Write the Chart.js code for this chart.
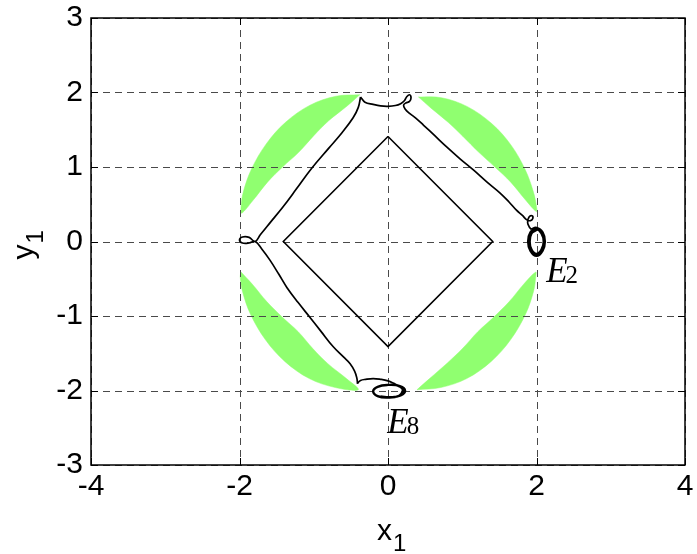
<!DOCTYPE html>
<html>
<head>
<meta charset="utf-8">
<script src="https://cdn.jsdelivr.net/npm/chart.js@4.4.1/dist/chart.umd.min.js"></script>
<style>
  html, body { margin: 0; background: #fff; }
</style>
</head>
<body>
<canvas id="phase" width="697" height="554"></canvas>
<script>
// axis ticks
const xTicks = [-4, -2, 0, 2, 4];
const yTicks = [-3, -2, -1, 0, 1, 2, 3];

// inner square (rotated)
const diamondX = [0, 1.41, 0, -1.41, 0];
const diamondY = [1.41, 0, -1.41, 0, 1.41];

// green regions, outer edge then inner edge
const greenTLx = [-0.38, -0.70, -1.05, -1.38, -1.64, -1.84, -1.95, -1.98, -1.97, -1.82, -1.62, -1.42, -1.20, -1.00, -0.80, -0.55, -0.38];
const greenTLy = [1.97, 1.95, 1.83, 1.60, 1.31, 0.97, 0.66, 0.45, 0.38, 0.55, 0.80, 1.00, 1.20, 1.42, 1.62, 1.82, 1.97];
const greenTRx = [0.41, 0.72, 1.07, 1.40, 1.66, 1.85, 1.96, 2.00, 2.00, 1.85, 1.65, 1.44, 1.22, 1.01, 0.81, 0.58, 0.41];
const greenTRy = [1.94, 1.93, 1.81, 1.58, 1.29, 0.96, 0.66, 0.47, 0.40, 0.56, 0.80, 1.00, 1.20, 1.41, 1.60, 1.79, 1.94];
const greenBLx = [-1.98, -1.99, -1.96, -1.85, -1.65, -1.39, -1.06, -0.71, -0.40, -0.56, -0.81, -1.01, -1.21, -1.43, -1.63, -1.83, -1.98];
const greenBLy = [-0.41, -0.47, -0.67, -0.98, -1.32, -1.61, -1.84, -1.96, -1.99, -1.84, -1.64, -1.44, -1.21, -1.01, -0.81, -0.57, -0.41];
const greenBRx = [0.39, 0.71, 1.06, 1.39, 1.65, 1.85, 1.96, 1.99, 1.99, 1.83, 1.63, 1.43, 1.21, 1.01, 0.80, 0.56, 0.39];
const greenBRy = [-1.99, -1.96, -1.84, -1.61, -1.32, -0.98, -0.67, -0.47, -0.41, -0.57, -0.81, -1.01, -1.21, -1.43, -1.63, -1.84, -1.99];

// trajectory: top-left corner, down past the left loop to the bottom corner
const leftX = [-0.37, -0.40, -0.47, -0.62, -0.80, -1.03, -1.23, -1.41, -1.59, -1.72, -1.79, -1.87, -1.96, -2.00, -1.96, -1.87, -1.79, -1.70, -1.59, -1.47, -1.36, -1.21, -1.05, -0.90, -0.74, -0.60, -0.51, -0.45, -0.42, -0.41];
const leftY = [1.94, 1.80, 1.66, 1.46, 1.25, 0.98, 0.71, 0.47, 0.25, 0.09, 0.00, 0.055, 0.06, 0.02, -0.02, -0.02, 0.00, -0.10, -0.25, -0.44, -0.62, -0.82, -1.02, -1.21, -1.41, -1.55, -1.64, -1.74, -1.83, -1.91];

// trajectory: arc over the top, small loop, then down to E2
const topX = [-0.37, -0.31, -0.20, -0.10, 0.00, 0.10, 0.17, 0.22, 0.25, 0.29, 0.31, 0.29, 0.24, 0.21, 0.23, 0.29, 0.37, 0.48, 0.63, 0.79, 0.97, 1.15, 1.33, 1.51, 1.63, 1.73, 1.81, 1.87, 1.92, 1.95, 1.94, 1.90, 1.88, 1.90, 1.93];
const topY = [1.94, 1.87, 1.84, 1.82, 1.815, 1.825, 1.85, 1.89, 1.94, 1.97, 1.93, 1.88, 1.86, 1.83, 1.78, 1.72, 1.66, 1.56, 1.42, 1.27, 1.11, 0.96, 0.80, 0.65, 0.53, 0.42, 0.35, 0.29, 0.28, 0.31, 0.345, 0.33, 0.26, 0.20, 0.16];

// hook at the bottom leading into E8
const hookX = [-0.41, -0.37, -0.30, -0.20, -0.10, 0.00, 0.07, 0.12];
const hookY = [-1.90, -1.865, -1.85, -1.84, -1.85, -1.87, -1.90, -1.93];

// equilibrium cycles
const e2X = [1.93, 2.00, 2.08, 2.11, 2.08, 2.00, 1.92, 1.89, 1.92, 2.00, 2.07, 2.10, 2.07, 2.00, 1.93, 1.905, 1.93, 2.00];
const e2Y = [0.16, 0.18, 0.12, 0.00, -0.12, -0.19, -0.12, 0.00, 0.12, 0.17, 0.11, 0.00, -0.11, -0.17, -0.11, 0.00, 0.11, 0.16];
const e8X = [0.12, 0.18, 0.20, 0.15, 0.00, -0.14, -0.20, -0.14, 0.00, 0.16, 0.23, 0.17, 0.03, -0.10];
const e8Y = [-1.93, -1.96, -2.00, -2.07, -2.095, -2.075, -2.01, -1.95, -1.925, -1.94, -2.00, -2.065, -2.09, -2.08];

// point labels
const eqLabels = [
  { main: 'E', sub: '2', x: 2.13, y: -0.54 },
  { main: 'E', sub: '8', x: -0.01, y: -2.57 }
];

const pts = (xs, ys) => xs.map((x, i) => ({ x: x, y: ys[i] }));

const curve = (xs, ys, w, tension) => ({
  data: pts(xs, ys),
  showLine: true,
  borderColor: '#000',
  borderWidth: w,
  tension: tension,
  pointRadius: 0,
  fill: false
});

const green = (xs, ys) => ({
  data: pts(xs, ys),
  showLine: true,
  borderColor: '#90ff70',
  borderWidth: 0.5,
  backgroundColor: '#90ff70',
  tension: 0.35,
  pointRadius: 0,
  fill: 'shape'
});

const FONT = '"Liberation Sans", Arial, sans-serif';
const SERIF = '"Liberation Serif", "Times New Roman", serif';

// grid, frame, tick marks and text with subscripts
const frame = {
  id: 'frame',
  afterDatasetDraw(chart, args) {
    if (args.index !== 6) return;
    const { ctx, chartArea: a, scales: { x, y } } = chart;
    ctx.save();
    ctx.strokeStyle = '#4a4a4a';
    ctx.lineWidth = 1;
    ctx.setLineDash([7, 5]);
    ctx.beginPath();
    xTicks.forEach(v => {
      const px = Math.round(x.getPixelForValue(v)) + 0.5;
      ctx.moveTo(px, a.top); ctx.lineTo(px, a.bottom);
    });
    yTicks.forEach(v => {
      const py = Math.round(y.getPixelForValue(v)) + 0.5;
      ctx.moveTo(a.left, py); ctx.lineTo(a.right, py);
    });
    ctx.stroke();
    ctx.restore();
  },
  afterDraw(chart) {
    const { ctx, chartArea: a, scales: { x, y } } = chart;
    ctx.save();
    ctx.strokeStyle = '#000';
    ctx.lineWidth = 1.5;
    ctx.strokeRect(a.left, a.top, a.right - a.left, a.bottom - a.top);
    ctx.lineWidth = 1;
    ctx.beginPath();
    xTicks.forEach(v => {
      const px = Math.round(x.getPixelForValue(v)) + 0.5;
      ctx.moveTo(px, a.bottom); ctx.lineTo(px, a.bottom - 7);
      ctx.moveTo(px, a.top); ctx.lineTo(px, a.top + 7);
    });
    yTicks.forEach(v => {
      const py = Math.round(y.getPixelForValue(v)) + 0.5;
      ctx.moveTo(a.left, py); ctx.lineTo(a.left + 7, py);
      ctx.moveTo(a.right, py); ctx.lineTo(a.right - 7, py);
    });
    ctx.stroke();

    ctx.fillStyle = '#000';
    ctx.textBaseline = 'alphabetic';
    ctx.textAlign = 'left';
    eqLabels.forEach(l => {
      const px = x.getPixelForValue(l.x);
      const py = y.getPixelForValue(l.y);
      ctx.font = 'italic 35px ' + SERIF;
      ctx.fillText(l.main, px, py);
      const w = ctx.measureText(l.main).width;
      ctx.font = '25px ' + SERIF;
      ctx.fillText(l.sub, px + w - 2, py + 1);
    });

    // axis titles x1 / y1
    const midX = (a.left + a.right) / 2;
    ctx.font = '30px ' + FONT;
    const xw = ctx.measureText('x').width;
    ctx.fillText('x', midX - 11, 540);
    ctx.font = '24px ' + FONT;
    ctx.fillText('1', midX - 11 + xw + 1, 551);

    const midY = (a.top + a.bottom) / 2;
    ctx.translate(33, midY + 18);
    ctx.rotate(-Math.PI / 2);
    ctx.font = '30px ' + FONT;
    const yw = ctx.measureText('y').width;
    ctx.fillText('y', 0, 0);
    ctx.font = '24px ' + FONT;
    ctx.fillText('1', yw + 1, 10);
    ctx.restore();
  }
};

new Chart(document.getElementById('phase'), {
  type: 'scatter',
  data: {
    datasets: [
      curve(leftX, leftY, 1.7, 0.4),
      curve(topX, topY, 1.7, 0.4),
      curve(hookX, hookY, 1.7, 0.4),
      curve(e2X, e2Y, 2.8, 0.45),
      curve(e8X, e8Y, 2.4, 0.45),
      curve(diamondX, diamondY, 1.6, 0),
      green(greenTLx, greenTLy),
      green(greenTRx, greenTRy),
      green(greenBLx, greenBLy),
      green(greenBRx, greenBRy)
    ]
  },
  options: {
    responsive: false,
    animation: false,
    layout: { padding: { top: 18, right: 12, left: 0, bottom: 0 } },
    plugins: { legend: { display: false }, tooltip: { enabled: false } },
    scales: {
      x: {
        type: 'linear', min: -4, max: 4,
        afterBuildTicks: s => { s.ticks = xTicks.map(v => ({ value: v })); },
        ticks: { color: '#000', font: { family: FONT, size: 30 }, padding: 4, maxRotation: 0 },
        grid: { display: false, drawTicks: false },
        border: { display: false },
        afterFit: s => { s.height = 89; s.paddingLeft = 0; s.paddingRight = 0; }
      },
      y: {
        type: 'linear', min: -3, max: 3,
        afterBuildTicks: s => { s.ticks = yTicks.map(v => ({ value: v })); },
        ticks: { color: '#000', font: { family: FONT, size: 30 }, padding: 8 },
        grid: { display: false, drawTicks: false },
        border: { display: false },
        afterFit: s => { s.width = 91; s.paddingTop = 0; s.paddingBottom = 0; }
      }
    }
  },
  plugins: [frame]
});
</script>
</body>
</html>
